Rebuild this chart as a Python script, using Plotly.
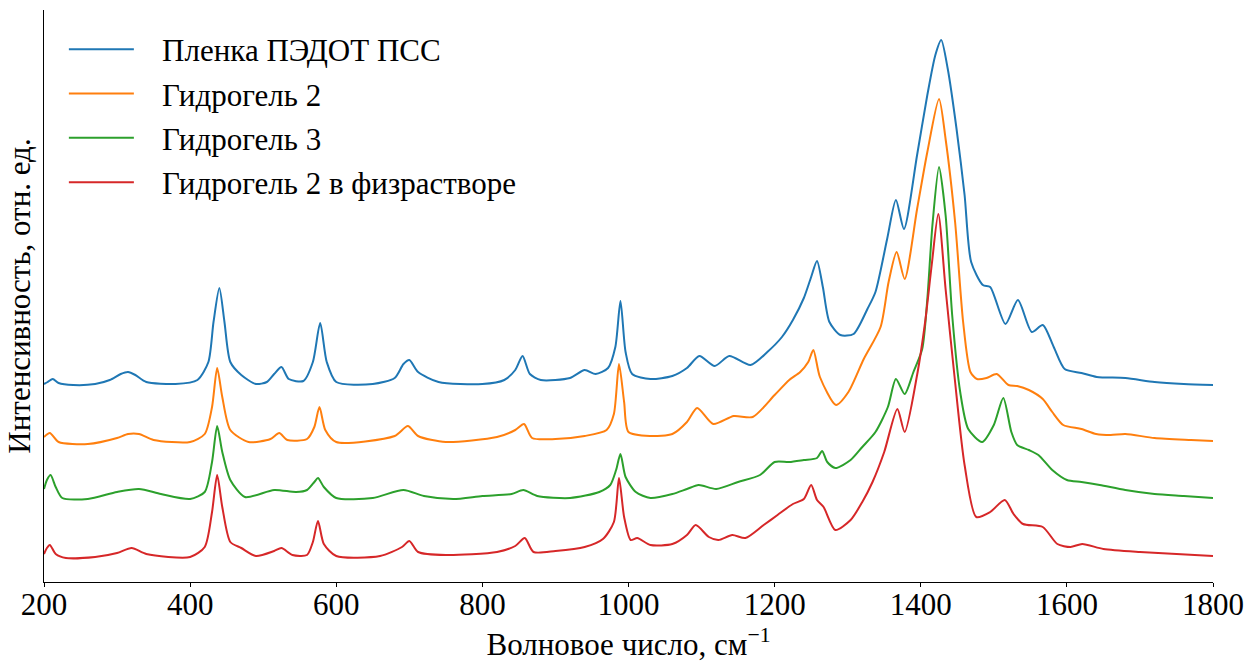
import plotly.graph_objects as go

# ---- data (wavenumber, cm^-1 ; intensity, arb. units, offset spectra) ----
names = ["Пленка ПЭДОТ ПСС", "Гидрогель 2", "Гидрогель 3", "Гидрогель 2 в физрастворе"]
colors = ["#1f77b4", "#ff7f0e", "#2ca02c", "#d62728"]

wn_film = [200, 205, 212, 220, 240, 270, 290, 305, 315, 325, 340, 380, 410, 425, 432, 440, 447, 455, 470, 490,
           505, 515, 525, 535, 555, 568, 578, 587, 600, 650, 680, 692, 700, 712, 740, 800, 830, 845, 855, 865,
           880, 920, 940, 955, 972, 982, 989, 996, 1005, 1030, 1060, 1080, 1097, 1118, 1138, 1167, 1190, 1210,
           1225, 1240, 1250, 1258, 1266, 1275, 1290, 1308, 1327, 1338, 1354, 1366, 1377, 1395, 1409, 1420, 1428,
           1437, 1449, 1460, 1469, 1485, 1495, 1516, 1533, 1552, 1567, 1582, 1597, 1620, 1641, 1680, 1720, 1760, 1800]
int_film = [198, 200, 203, 199, 197, 198, 202, 208, 210, 207, 200, 198, 202, 220, 260, 294, 260, 220, 207, 198,
            200, 208, 215, 203, 201, 220, 259, 220, 200, 198, 204, 218, 222, 210, 200, 198, 202, 212, 226, 208,
            202, 204, 212, 208, 214, 235, 281, 230, 208, 203, 206, 214, 226, 216, 226, 217, 230, 245,
            262, 284, 305, 321, 295, 260, 247, 248, 273, 290, 343, 382, 353, 427, 487, 527, 542,
            513, 453, 387, 320, 297, 295, 258, 282, 250, 257, 235, 213, 209, 205, 204, 200, 198, 197]

wn_gel2 = [200, 208, 220, 260, 300, 315, 330, 350, 400, 420, 430, 437, 444, 455, 480, 510, 522, 533, 560, 570,
           577, 585, 600, 680, 698, 712, 750, 820, 845, 857, 868, 900, 940, 970, 980, 987, 994, 1000, 1030, 1060,
           1080, 1094, 1116, 1144, 1170, 1200, 1220, 1235, 1246, 1253, 1262, 1284, 1301, 1322, 1345, 1356, 1367,
           1378, 1395, 1409, 1425, 1434, 1447, 1458, 1468, 1477, 1490, 1504, 1520, 1532, 1548, 1567, 1580, 1595,
           1620, 1640, 1660, 1680, 1720, 1770, 1800]
int_gel2 = [145, 149, 140, 138, 144, 148, 148, 142, 140, 148, 175, 214, 185, 152, 140, 143, 149, 142, 143, 155,
            175, 152, 140, 146, 156, 146, 140, 145, 152, 158, 144, 143, 146, 152, 168, 218, 180, 150, 146, 148,
            160, 174, 158, 166, 165, 187, 202, 210, 220, 232, 205, 177, 190, 223, 255, 300, 330,
            303, 373, 430, 483, 443, 360, 260, 210, 203, 204, 208, 197, 196, 192, 183, 170, 157,
            153, 148, 147, 148, 144, 142, 141]

wn_gel3 = [200, 204, 209, 216, 225, 260, 300, 330, 360, 400, 420, 430, 437, 444, 455, 475, 515, 545, 560, 570,
           575, 583, 600, 650, 692, 720, 760, 800, 840, 856, 875, 920, 960, 975, 983, 989, 996, 1010, 1030, 1060,
           1080, 1096, 1120, 1150, 1180, 1200, 1220, 1240, 1258, 1265, 1272, 1283, 1304, 1320, 1338, 1355, 1366,
           1378, 1390, 1402, 1409, 1416, 1425, 1434, 1443, 1454, 1465, 1484, 1500, 1513, 1524, 1532, 1548, 1561,
           1580, 1600, 1620, 1645, 1680, 1720, 1760, 1800]
int_gel3 = [93, 102, 107, 95, 84, 83, 90, 93, 88, 83, 90, 120, 156, 130, 102, 85, 92, 90, 92, 100,
            104, 95, 84, 84, 92, 86, 83, 86, 88, 92, 86, 84, 90, 97, 112, 128, 105, 90, 84, 88,
            93, 97, 93, 100, 107, 120, 120, 122, 124, 131, 120, 114, 122, 135, 150, 175, 203,
            188, 210, 233, 283, 357, 415, 367, 267, 190, 153, 140, 157, 184, 150, 137, 132, 127,
            112, 102, 100, 97, 92, 88, 86, 84]

wn_gel2s = [200, 204, 208, 216, 230, 270, 300, 320, 340, 400, 420, 430, 437, 444, 455, 470, 490, 515, 525, 540,
            560, 568, 575, 583, 600, 660, 690, 700, 712, 750, 820, 845, 858, 870, 900, 940, 965, 980, 987, 994,
            1003, 1012, 1030, 1060, 1080, 1092, 1110, 1123, 1142, 1160, 1185, 1204, 1225, 1240, 1250, 1258, 1267,
            1283, 1304, 1320, 1334, 1350, 1368, 1378, 1395, 1406, 1415, 1424, 1434, 1446, 1460, 1476, 1495, 1515,
            1527, 1540, 1567, 1587, 1605, 1621, 1650, 1700, 1750, 1800]
int_gel2s = [28, 34, 37, 28, 24, 25, 29, 34, 28, 25, 35, 70, 107, 75, 40, 34, 26, 31, 34, 27,
             27, 40, 61, 38, 26, 26, 35, 41, 30, 27, 30, 36, 44, 30, 31, 35, 43, 60, 104, 65,
             42, 44, 37, 38, 47, 57, 45, 42, 47, 44, 57, 67, 78, 83, 97, 82, 75,
             52, 62, 80, 100, 130, 173, 150, 207, 260, 317, 368, 293, 207, 117, 65, 70, 82,
             68, 58, 55, 38, 35, 38, 33, 30, 28, 26]

x_ticks = [200, 400, 600, 800, 1000, 1200, 1400, 1600, 1800]

series = [(wn_film, int_film), (wn_gel2, int_gel2), (wn_gel3, int_gel3), (wn_gel2s, int_gel2s)]

FONT = "Liberation Serif, Times New Roman, serif"
NBSP = "\u00a0"

fig = go.Figure()
for i, ((wx, wy), nm, col) in enumerate(zip(series, names, colors)):
    fig.add_trace(go.Scatter(
        x=wx, y=wy, mode="lines", name=NBSP * 3 + nm,
        line=dict(color=col, width=2, shape="spline", smoothing=0.7),
        legendgroup=f"g{i}",
    ))

fig.update_layout(
    width=1247, height=662,
    margin=dict(l=44, r=34, t=10, b=80, autoexpand=False),
    paper_bgcolor="white", plot_bgcolor="white",
    font=dict(family=FONT, color="black", size=30),
    showlegend=True,
    legend=dict(
        x=0.017, y=0.978, xanchor="left", yanchor="top",
        bgcolor="rgba(0,0,0,0)", borderwidth=0,
        font=dict(family=FONT, size=31, color="black"),
        itemwidth=65, traceorder="grouped", tracegroupgap=1,
    ),
    xaxis=dict(
        range=[200, 1800], tickvals=x_ticks, ticktext=[str(v) for v in x_ticks],
        ticks="outside", ticklen=4, tickwidth=1, tickcolor="black",
        showline=True, linecolor="black", linewidth=1,
        showgrid=False, zeroline=False, automargin=False,
        ticklabelstandoff=-9,
        tickfont=dict(family=FONT, size=31, color="black"),
        title=dict(text="Волновое число, см<sup>−1</sup>", font=dict(family=FONT, size=31, color="black"), standoff=12),
    ),
    yaxis=dict(
        range=[0, 572], showticklabels=False, ticks="",
        showline=True, linecolor="black", linewidth=1,
        showgrid=False, zeroline=False, automargin=False,
        title=dict(text="Интенсивность, отн. ед.", font=dict(family=FONT, size=31, color="black"), standoff=3),
    ),
)

fig.write_html("out.html", config={"displayModeBar": False},
               post_script="document.body.style.margin='0';document.body.style.padding='0';")
